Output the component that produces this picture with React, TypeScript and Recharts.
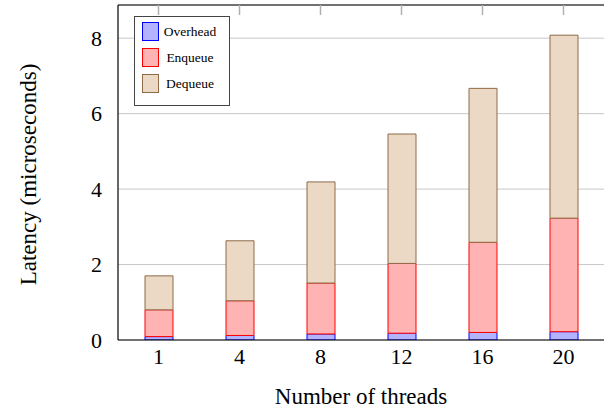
import {
  BarChart,
  Bar,
  XAxis,
  YAxis,
  CartesianGrid,
  Legend,
} from 'recharts'

const threads = ['1', '4', '8', '12', '16', '20']
const overhead = [0.09, 0.12, 0.16, 0.18, 0.2, 0.22]
const enqueue = [0.71, 0.92, 1.35, 1.85, 2.39, 3.01]
const dequeue = [0.9, 1.59, 2.68, 3.43, 4.08, 4.85]
const yTicks = [0, 2, 4, 6, 8]

const FONT = '"Liberation Serif", "DejaVu Serif", serif'

const series = [
  { key: 'overhead', label: 'Overhead', fill: '#b3b3ff', stroke: '#0000ff' },
  { key: 'enqueue', label: 'Enqueue', fill: '#ffb3b3', stroke: '#ff0000' },
  { key: 'dequeue', label: 'Dequeue', fill: '#ebd9c6', stroke: '#8f6a47' },
]

const data = threads.map((t, i) => ({
  threads: t,
  overhead: overhead[i],
  enqueue: enqueue[i],
  dequeue: dequeue[i],
}))

function renderLegend() {
  return (
    <div
      style={{
        width: 96,
        height: 90,
        border: '1px solid #444',
        background: '#fff',
        boxSizing: 'border-box',
        paddingTop: 5,
        paddingLeft: 7,
        fontFamily: FONT,
        fontSize: 13.5,
        color: '#000',
      }}
    >
      {series.map((s) => (
        <div
          key={s.key}
          style={{ display: 'flex', alignItems: 'center', height: 19, marginBottom: 7 }}
        >
          <div
            style={{
              width: 15,
              height: 17,
              background: s.fill,
              border: `1px solid ${s.stroke}`,
            }}
          />
          <div style={{ width: 62, textAlign: 'center' }}>{s.label}</div>
        </div>
      ))}
    </div>
  )
}

function yLabel(props: any) {
  const vb = props.viewBox || {}
  const cx = 36
  const cy = vb.y + vb.height / 2 + 2
  return (
    <text
      x={cx}
      y={cy}
      transform={`rotate(-90 ${cx} ${cy})`}
      textAnchor="middle"
      fontFamily={FONT}
      fontSize={23}
      fill="#000"
    >
      Latency (microseconds)
    </text>
  )
}

function xLabel(props: any) {
  const vb = props.viewBox || {}
  return (
    <text
      x={vb.x + vb.width / 2}
      y={404}
      textAnchor="middle"
      fontFamily={FONT}
      fontSize={23}
      fill="#000"
    >
      Number of threads
    </text>
  )
}

// short inside tick marks along the top edge of the frame
function topTick(props: any) {
  const { x, y } = props
  return <line x1={x} x2={x} y1={y} y2={y + 10} stroke="#b0b0b0" strokeWidth={1.5} />
}

export default function App() {
  const tickStyle = { fontSize: 22, fontFamily: FONT, fill: '#000' }
  const frame = { stroke: '#000', strokeWidth: 1.2 }
  return (
    <div style={{ position: 'absolute', left: 0, top: 0, background: '#fff' }}>
      <BarChart
        width={607}
        height={410}
        data={data}
        margin={{ top: 4, right: 3, bottom: 0, left: 0 }}
      >
        <CartesianGrid horizontal vertical={false} stroke="#c8c8c8" />
        <XAxis
          dataKey="threads"
          height={70}
          tickLine={false}
          tickMargin={2}
          axisLine={frame}
          tick={tickStyle}
          label={xLabel}
        />
        <XAxis
          xAxisId="top"
          dataKey="threads"
          orientation="top"
          height={1}
          tickSize={0}
          tickMargin={0}
          tickLine={false}
          tick={topTick}
          axisLine={frame}
        />
        <YAxis
          width={118}
          domain={[0, 8.88]}
          ticks={yTicks}
          allowDataOverflow
          tickLine={false}
          tickMargin={10}
          axisLine={frame}
          tick={tickStyle}
          label={yLabel}
        />
        <YAxis
          yAxisId="right"
          orientation="right"
          mirror
          width={0}
          domain={[0, 8.88]}
          ticks={yTicks}
          allowDataOverflow
          tickSize={10}
          tickLine={{ stroke: '#999', strokeWidth: 1.5 }}
          tickFormatter={() => ''}
          axisLine={frame}
        />
        <Legend
          layout="vertical"
          align="center"
          verticalAlign="middle"
          content={renderLegend}
          wrapperStyle={{ position: 'absolute', left: 134, top: 16, width: 96, height: 90 }}
        />
        {series.map((s) => (
          <Bar
            key={s.key}
            dataKey={s.key}
            name={s.label}
            stackId="a"
            barSize={28}
            fill={s.fill}
            stroke={s.stroke}
            strokeWidth={1}
            isAnimationActive={false}
          />
        ))}
      </BarChart>
    </div>
  )
}
